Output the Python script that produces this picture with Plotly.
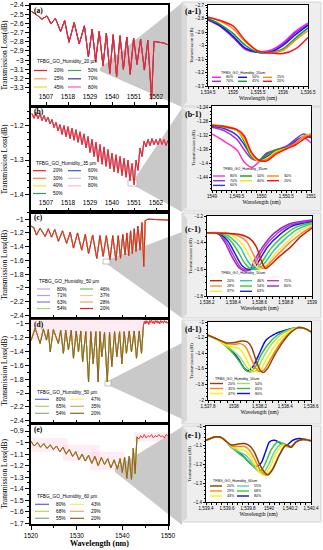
import plotly.graph_objects as go

# ======================= DATA =======================
# ---- left panel (a): TFBG_GO_Humidity_20 um ----
A_WL = [1499.8, 1502.4, 1504.9, 1507.5, 1509.5, 1511.7, 1514.3, 1516.3, 1518.5, 1521.1,
        1523.6, 1526.2, 1528.2, 1530.1, 1531.8, 1533.6, 1535.5, 1537.2, 1538.9, 1540.6,
        1542.3, 1544.0, 1545.7, 1547.4, 1549.1, 1550.8, 1552.5, 1554.3, 1556.2, 1557.9,
        1559.8, 1561.0, 1563.5, 1566.1, 1567.8]
A_LOSS = [-2.472, -2.508, -2.555, -2.519, -2.605, -2.544, -2.688, -2.569, -2.806, -2.591,
          -2.824, -2.627, -2.965, -2.663, -3.012, -2.688, -3.065, -2.706, -3.145, -2.724,
          -3.181, -2.735, -3.101, -2.749, -3.155, -2.760, -3.047, -2.771, -3.109, -2.785,
          -3.425, -2.796, -2.806, -2.814, -2.832]
A_SERIES = ["20%", "25%", "45%", "50%", "70%", "80%"]
A_XTICKS = [1507, 1518, 1529, 1540, 1551, 1562]

# ---- left panel (b): TFBG_GO_Humidity_35 um ----
B_WL = [1500, 1501, 1502, 1503, 1504, 1505, 1506, 1507, 1508, 1509, 1510, 1511, 1512, 1513,
        1514, 1515, 1516, 1517, 1518, 1519, 1520, 1521, 1522, 1523, 1524, 1525, 1526, 1527,
        1528, 1529, 1530, 1531, 1532, 1533, 1534, 1535, 1536, 1537, 1538, 1539, 1540, 1541,
        1542, 1543, 1544, 1545, 1546, 1547, 1548, 1549, 1550, 1551, 1552, 1553, 1554, 1555,
        1556, 1557, 1558, 1559, 1560, 1561, 1562, 1563, 1564, 1565, 1566, 1567, 1568]
B_LOSS = [-1.165, -1.178, -1.162, -1.180, -1.165, -1.185, -1.170, -1.188, -1.175, -1.195,
          -1.182, -1.205, -1.190, -1.215, -1.197, -1.225, -1.200, -1.232, -1.203, -1.238,
          -1.207, -1.242, -1.212, -1.248, -1.218, -1.255, -1.224, -1.265, -1.232, -1.278,
          -1.240, -1.290, -1.248, -1.305, -1.255, -1.312, -1.262, -1.318, -1.270, -1.325,
          -1.280, -1.335, -1.285, -1.338, -1.290, -1.345, -1.295, -1.350, -1.300, -1.360,
          -1.310, -1.372, -1.300, -1.330, -1.265, -1.290, -1.245, -1.262, -1.240, -1.258,
          -1.238, -1.255, -1.240, -1.256, -1.238, -1.255, -1.240, -1.258, -1.242]
B_SERIES = ["20%", "30%", "40%", "50%", "60%", "70%", "80%"]
B_XTICKS = [1507, 1518, 1529, 1540, 1551, 1562]

# ---- left panel (c): TFBG_GO_Humidity_50 um ----
C_WL = [1520.0, 1520.6, 1521.2, 1522.0, 1523.1, 1523.8, 1524.5, 1525.2, 1526.0, 1526.9,
        1527.8, 1528.6, 1529.3, 1530.2, 1531.1, 1531.9, 1532.6, 1533.5, 1534.4, 1535.1,
        1535.8, 1536.5, 1537.3, 1537.9, 1538.6, 1539.1, 1539.6, 1540.1, 1540.6, 1541.0,
        1541.4, 1541.8, 1542.2, 1542.6, 1543.0, 1543.4, 1543.9, 1544.3, 1544.7, 1545.0,
        1545.6, 1546.5, 1547.5, 1548.5, 1550.0]
C_LOSS = [-1.10, -1.12, -1.23, -1.13, -1.25, -1.14, -1.26, -1.15, -1.32, -1.17,
          -1.35, -1.19, -1.42, -1.20, -1.45, -1.22, -1.50, -1.23, -1.57, -1.24,
          -1.54, -1.24, -1.59, -1.24, -1.60, -1.24, -1.57, -1.22, -1.52, -1.20,
          -1.53, -1.17, -1.50, -1.14, -1.47, -1.10, -1.45, -1.05, -1.69, -1.02,
          -1.00, -1.00, -1.01, -1.00, -1.01]
C_SERIES = ["80%", "71%", "63%", "54%", "46%", "37%", "28%", "20%"]

# ---- left panel (d): TFBG_GO_Humidity_50 um ----
D_WL = [1520.0, 1520.9, 1522.0, 1522.7, 1523.4, 1523.8, 1524.2, 1524.9, 1526.0, 1526.5,
        1527.1, 1527.6, 1528.2, 1528.8, 1529.3, 1529.9, 1530.4, 1530.9, 1531.3, 1532.0,
        1532.6, 1533.1, 1533.6, 1534.2, 1534.7, 1535.1, 1535.5, 1536.1, 1536.7, 1537.2,
        1537.7, 1538.3, 1538.8, 1539.4, 1539.9, 1540.4, 1540.9, 1541.5, 1542.0, 1542.6,
        1543.1, 1543.7, 1544.2, 1544.6]
D_LOSS = [-1.25, -1.07, -1.29, -1.08, -1.24, -1.09, -1.41, -1.09, -1.29, -1.10,
          -1.43, -1.10, -1.38, -1.10, -1.50, -1.11, -1.41, -1.11, -1.55, -1.12,
          -1.84, -1.12, -1.58, -1.12, -1.84, -1.12, -1.48, -1.13, -1.84, -1.13,
          -1.62, -1.12, -1.48, -1.12, -1.58, -1.12, -1.43, -1.11, -1.41, -1.11,
          -1.50, -1.11, -1.43, -1.05]
D_TAIL_WL = [1544.6, 1544.8, 1545.0, 1545.2, 1545.4, 1545.6, 1545.8, 1546.0, 1546.2, 1546.4,
             1546.6, 1546.8, 1547.0, 1547.2, 1547.4, 1547.6, 1547.8, 1548.0, 1548.2, 1548.4,
             1548.6, 1548.8, 1549.0, 1549.2, 1549.4, 1549.6, 1549.8, 1550.0]
D_TAIL_LOSS = [-1.05, -0.97, -1.01, -0.96, -1.00, -0.97, -1.02, -0.96, -0.99, -0.95,
               -1.00, -0.97, -1.01, -0.96, -0.99, -0.96, -1.00, -0.97, -1.01, -0.96,
               -0.99, -0.97, -1.00, -0.96, -0.99, -0.97, -1.00, -0.98]
D_SERIES = ["80%", "65%", "54%", "47%", "35%", "20%"]

# ---- left panel (e): TFBG_GO_Humidity_60 um ----
E_WL = [1520.0, 1520.7, 1521.4, 1522.1, 1522.8, 1523.5, 1524.2, 1524.9, 1525.6, 1526.3,
        1527.0, 1527.7, 1528.4, 1529.1, 1529.8, 1530.5, 1531.2, 1531.9, 1532.6, 1533.3,
        1534.0, 1534.7, 1535.4, 1536.1, 1536.8, 1537.5, 1538.2, 1538.9, 1539.5, 1540.0,
        1540.5, 1541.0, 1541.5, 1542.0, 1542.4, 1542.8, 1543.2]
E_LOSS = [-0.99, -1.03, -1.00, -1.04, -1.01, -1.05, -1.02, -1.06, -1.03, -1.08,
          -1.04, -1.10, -1.06, -1.12, -1.08, -1.15, -1.10, -1.16, -1.11, -1.18,
          -1.12, -1.20, -1.13, -1.19, -1.14, -1.22, -1.15, -1.23, -1.14, -1.26,
          -1.13, -1.31, -1.12, -1.32, -1.05, -1.27, -0.95]
E_TAIL_WL = [1543.2, 1543.6, 1544.0, 1544.4, 1544.8, 1545.2, 1545.6, 1546.0, 1546.4, 1546.8,
             1547.2, 1547.6, 1548.0, 1548.4, 1548.8, 1549.2, 1549.6, 1550.0]
E_TAIL_LOSS = [-0.95, -0.97, -0.94, -0.96, -0.93, -0.96, -0.94, -0.95, -0.93, -0.96,
               -0.94, -0.95, -0.93, -0.95, -0.94, -0.96, -0.93, -0.94]
E_SERIES = ["80%", "68%", "55%", "43%", "29%", "20%"]
E_XTICKS = [1520, 1530, 1540, 1550]

# ---- right panel (a-1) ----
A1_WL = [1534.5, 1534.75, 1535.0, 1535.25, 1535.5, 1535.75, 1536.0, 1536.25, 1536.5]
A1_80 = [-2.810, -2.855, -2.935, -3.025, -3.045, -3.035, -2.980, -2.895, -2.835]
A1_70 = [-2.810, -2.860, -2.940, -3.030, -3.050, -3.045, -2.990, -2.905, -2.845]
A1_50 = [-2.805, -2.855, -2.930, -3.020, -3.050, -3.050, -3.000, -2.920, -2.850]
A1_45 = [-2.800, -2.845, -2.910, -3.000, -3.050, -3.050, -3.025, -2.945, -2.870]
A1_25 = [-2.790, -2.820, -2.875, -2.975, -3.040, -3.055, -3.035, -2.960, -2.890]
A1_20 = [-2.790, -2.815, -2.855, -2.965, -3.040, -3.055, -3.060, -3.025, -2.940]

# ---- right panel (b-1) ----
B1_WL = [1549.0, 1549.25, 1549.5, 1549.65, 1549.8, 1549.95, 1550.1, 1550.3, 1550.5, 1550.7, 1550.85, 1551.0]
B1_80 = [-1.315, -1.336, -1.360, -1.395, -1.410, -1.395, -1.372, -1.363, -1.355, -1.332, -1.325, -1.340]
B1_70 = [-1.296, -1.306, -1.330, -1.360, -1.385, -1.390, -1.370, -1.360, -1.350, -1.328, -1.315, -1.325]
B1_60 = [-1.293, -1.300, -1.318, -1.345, -1.378, -1.392, -1.380, -1.365, -1.355, -1.335, -1.322, -1.325]
B1_50 = [-1.290, -1.295, -1.305, -1.335, -1.380, -1.390, -1.375, -1.360, -1.355, -1.340, -1.322, -1.315]
B1_40 = [-1.290, -1.294, -1.305, -1.330, -1.375, -1.393, -1.385, -1.365, -1.356, -1.340, -1.322, -1.315]
B1_30 = [-1.290, -1.292, -1.303, -1.325, -1.370, -1.392, -1.388, -1.368, -1.357, -1.340, -1.323, -1.318]
B1_20 = [-1.290, -1.294, -1.302, -1.320, -1.368, -1.390, -1.392, -1.372, -1.358, -1.345, -1.330, -1.320]

# ---- right panel (c-1) ----
C1_20_WL = [1538.2, 1538.35, 1538.45, 1538.525, 1538.575, 1538.6125, 1538.645, 1538.675, 1538.75, 1538.84, 1538.9125, 1539.0]
C1_20 = [-1.325, -1.33, -1.338, -1.368, -1.43, -1.53, -1.593, -1.575, -1.505, -1.43, -1.355, -1.29]
C1_28_WL = [1538.2, 1538.35, 1538.44, 1538.5, 1538.55, 1538.5875, 1538.625, 1538.6625, 1538.7375, 1538.825, 1538.9125, 1539.0]
C1_28 = [-1.325, -1.33, -1.35, -1.39, -1.48, -1.555, -1.593, -1.568, -1.49, -1.405, -1.335, -1.28]
C1_37_WL = [1538.2, 1538.3375, 1538.4125, 1538.475, 1538.525, 1538.575, 1538.605, 1538.65, 1538.725, 1538.8125, 1538.9, 1539.0]
C1_37 = [-1.325, -1.33, -1.36, -1.418, -1.505, -1.58, -1.598, -1.568, -1.48, -1.393, -1.318, -1.268]
C1_46_WL = [1538.2, 1538.325, 1538.3875, 1538.45, 1538.505, 1538.55, 1538.5875, 1538.6375, 1538.7125, 1538.8, 1538.8875, 1539.0]
C1_46 = [-1.325, -1.33, -1.368, -1.43, -1.53, -1.585, -1.6, -1.555, -1.455, -1.368, -1.3, -1.26]
C1_54_WL = [1538.2, 1538.3125, 1538.375, 1538.43, 1538.4875, 1538.53, 1538.57, 1538.62, 1538.6875, 1538.775, 1538.875, 1539.0]
C1_54 = [-1.325, -1.335, -1.38, -1.455, -1.555, -1.595, -1.6, -1.543, -1.443, -1.355, -1.285, -1.25]
C1_63_WL = [1538.2, 1538.3, 1538.3625, 1538.4125, 1538.47, 1538.5125, 1538.555, 1538.6, 1538.6625, 1538.75, 1538.85, 1539.0]
C1_63 = [-1.325, -1.335, -1.393, -1.48, -1.575, -1.6, -1.595, -1.53, -1.43, -1.343, -1.275, -1.243]
C1_71_WL = [1538.2, 1538.295, 1538.35, 1538.4, 1538.455, 1538.495, 1538.5375, 1538.58, 1538.645, 1538.73, 1538.8375, 1539.0]
C1_71 = [-1.325, -1.335, -1.4, -1.4925, -1.585, -1.605, -1.6, -1.53, -1.425, -1.335, -1.2675, -1.2375]
C1_80_WL = [1538.2, 1538.2875, 1538.34, 1538.39, 1538.44, 1538.48, 1538.525, 1538.56, 1538.625, 1538.71, 1538.825, 1539.0]
C1_80 = [-1.325, -1.335, -1.405, -1.505, -1.585, -1.61, -1.605, -1.535, -1.43, -1.33, -1.26, -1.23]

# ---- right panel (d-1) ----
D1_20_WL = [1537.8, 1537.881, 1537.945, 1538.008, 1538.059, 1538.102, 1538.135, 1538.173, 1538.204, 1538.229, 1538.262, 1538.313, 1538.377, 1538.44, 1538.503, 1538.554, 1538.6]
D1_20 = [-1.17, -1.226, -1.268, -1.264, -1.243, -1.251, -1.311, -1.489, -1.617, -1.647, -1.596, -1.438, -1.268, -1.14, -1.072, -1.085, -1.128]
D1_35_WL = [1537.8, 1537.881, 1537.945, 1538.008, 1538.051, 1538.092, 1538.135, 1538.173, 1538.204, 1538.237, 1538.288, 1538.351, 1538.415, 1538.503, 1538.554, 1538.6]
D1_35 = [-1.17, -1.226, -1.277, -1.285, -1.277, -1.319, -1.468, -1.596, -1.638, -1.609, -1.468, -1.298, -1.17, -1.072, -1.085, -1.128]
D1_47_WL = [1537.8, 1537.881, 1537.945, 1537.996, 1538.041, 1538.084, 1538.128, 1538.173, 1538.204, 1538.25, 1538.313, 1538.377, 1538.453, 1538.503, 1538.554, 1538.6]
D1_47 = [-1.17, -1.234, -1.298, -1.328, -1.34, -1.426, -1.574, -1.638, -1.617, -1.489, -1.319, -1.191, -1.106, -1.072, -1.085, -1.128]
D1_54_WL = [1537.8, 1537.881, 1537.945, 1537.996, 1538.046, 1538.097, 1538.143, 1538.178, 1538.224, 1538.288, 1538.351, 1538.427, 1538.503, 1538.554, 1538.6]
D1_54 = [-1.17, -1.234, -1.311, -1.37, -1.447, -1.574, -1.638, -1.617, -1.468, -1.298, -1.183, -1.106, -1.072, -1.085, -1.128]
D1_65_WL = [1537.8, 1537.881, 1537.945, 1537.996, 1538.046, 1538.092, 1538.128, 1538.168, 1538.211, 1538.275, 1538.338, 1538.415, 1538.503, 1538.554, 1538.6]
D1_65 = [-1.17, -1.234, -1.319, -1.404, -1.511, -1.617, -1.638, -1.574, -1.426, -1.268, -1.17, -1.106, -1.072, -1.085, -1.128]
D1_80_WL = [1537.8, 1537.894, 1537.945, 1537.983, 1538.034, 1538.084, 1538.11, 1538.148, 1538.199, 1538.25, 1538.326, 1538.402, 1538.503, 1538.554, 1538.6]
D1_80 = [-1.17, -1.243, -1.298, -1.362, -1.468, -1.596, -1.626, -1.574, -1.404, -1.234, -1.149, -1.106, -1.072, -1.085, -1.128]

# ---- right panel (e-1) ----
E1_20_WL = [1539.4, 1539.485, 1539.548, 1539.596, 1539.643, 1539.706, 1539.769, 1539.823, 1539.864, 1539.911, 1539.958, 1539.99, 1540.037, 1540.1, 1540.163, 1540.211, 1540.258, 1540.321, 1540.4]
E1_20 = [-1.075, -1.058, -1.061, -1.083, -1.1, -1.095, -1.092, -1.108, -1.142, -1.202, -1.244, -1.258, -1.227, -1.151, -1.1, -1.112, -1.083, -1.071, -1.078]
E1_29_WL = [1539.4, 1539.485, 1539.548, 1539.596, 1539.643, 1539.706, 1539.769, 1539.816, 1539.864, 1539.911, 1539.968, 1540.021, 1540.085, 1540.148, 1540.211, 1540.258, 1540.321, 1540.4]
E1_29 = [-1.075, -1.058, -1.061, -1.083, -1.105, -1.108, -1.108, -1.129, -1.176, -1.227, -1.258, -1.236, -1.168, -1.108, -1.112, -1.083, -1.071, -1.078]
E1_43_WL = [1539.4, 1539.485, 1539.548, 1539.596, 1539.643, 1539.706, 1539.769, 1539.816, 1539.864, 1539.911, 1539.952, 1540.006, 1540.069, 1540.132, 1540.211, 1540.258, 1540.321, 1540.4]
E1_43 = [-1.075, -1.058, -1.061, -1.083, -1.108, -1.122, -1.129, -1.156, -1.202, -1.244, -1.258, -1.219, -1.142, -1.1, -1.112, -1.083, -1.071, -1.078]
E1_55_WL = [1539.4, 1539.485, 1539.548, 1539.596, 1539.643, 1539.706, 1539.769, 1539.816, 1539.864, 1539.911, 1539.943, 1539.99, 1540.053, 1540.116, 1540.211, 1540.258, 1540.321, 1540.4]
E1_55 = [-1.075, -1.058, -1.061, -1.083, -1.112, -1.134, -1.151, -1.176, -1.219, -1.244, -1.249, -1.21, -1.134, -1.095, -1.112, -1.083, -1.071, -1.078]
E1_68_WL = [1539.4, 1539.485, 1539.548, 1539.596, 1539.643, 1539.706, 1539.769, 1539.823, 1539.879, 1539.921, 1539.968, 1540.021, 1540.085, 1540.148, 1540.211, 1540.258, 1540.321, 1540.4]
E1_68 = [-1.075, -1.058, -1.061, -1.083, -1.112, -1.142, -1.168, -1.197, -1.227, -1.236, -1.193, -1.125, -1.083, -1.095, -1.108, -1.083, -1.071, -1.078]
E1_80_WL = [1539.4, 1539.485, 1539.548, 1539.596, 1539.643, 1539.722, 1539.785, 1539.832, 1539.879, 1539.927, 1539.968, 1540.006, 1540.053, 1540.116, 1540.163, 1540.226, 1540.29, 1540.4]
E1_80 = [-1.075, -1.058, -1.061, -1.083, -1.112, -1.142, -1.176, -1.202, -1.214, -1.193, -1.134, -1.083, -1.075, -1.092, -1.103, -1.075, -1.066, -1.078]

TITLES_LEFT = ["TFBG_GO_Humidity_20 µm", "TFBG_GO_Humidity_35 µm", "TFBG_GO_Humidity_50 µm",
               "TFBG_GO_Humidity_50 µm", "TFBG_GO_Humidity_60 µm"]
TITLES_RIGHT = ["TFBG_GO_Humidity_20um", "TFBG_GO_Humidity_35um", "TFBG_GO_Humidity_50um",
                "TFBG_GO_Humidity_50um", "TFBG_GO_Humidity_60um"]
PANEL_LEFT = ["(a)", "(b)", "(c)", "(d)", "(e)"]
PANEL_RIGHT = ["(a-1)", "(b-1)", "(c-1)", "(d-1)", "(e-1)"]

# ======================= STYLE =======================
W, H = 323, 550
def fx(p):
    return p / W
def fy(p):
    return 1 - p / H

SANS = "Liberation Sans"
SERIF = "Liberation Serif"

LEFT_COLORS = [
    {"20%": "#f21d1d", "25%": "#ff9a3c", "45%": "#e8e020", "50%": "#3aa65a", "70%": "#35359a", "80%": "#ff4fd0"},
    {"20%": "#f21d1d", "30%": "#ff7f1e", "40%": "#ffe033", "50%": "#2f9e5a", "60%": "#3b55c8", "70%": "#cdb8ff", "80%": "#ffb0ee"},
    {"80%": "#bfa6e6", "71%": "#b0a0ee", "63%": "#7c7cdc", "54%": "#9fd67e", "46%": "#6fbf6c", "37%": "#f2c98a", "28%": "#e3a66a", "20%": "#e0251c"},
    {"80%": "#5d6fe0", "65%": "#a4d65e", "54%": "#8fae8c", "47%": "#fff266", "35%": "#d5a45c", "20%": "#8a6422"},
    {"80%": "#6a5acd", "68%": "#b8d95a", "55%": "#7fae70", "43%": "#eeee55", "29%": "#e0aa72", "20%": "#8a6422"},
]
LEFT_LEG_ORDER = [
    ["20%", "50%", "25%", "70%", "45%", "80%"],
    ["20%", "60%", "30%", "70%", "40%", "80%", "50%"],
    ["80%", "46%", "71%", "37%", "63%", "28%", "54%", "20%"],
    ["80%", "47%", "65%", "35%", "54%", "20%"],
    ["80%", "43%", "68%", "29%", "55%", "20%"],
]
LEFT_LEG = [
    dict(tx=35, ty=61, rows=[70.5, 78.8, 87.0], cols=[34, 68], ll=13),
    dict(tx=34, ty=163, rows=[170.7, 178.3, 185.9, 193.5], cols=[33, 68], ll=13),
    dict(tx=37, ty=281, rows=[289.0, 295.5, 302.0, 308.5], cols=[37, 80], ll=13),
    dict(tx=35, ty=392, rows=[399.3, 406.3, 413.3], cols=[35, 70], ll=14),
    dict(tx=35, ty=496, rows=[504.3, 511.3, 518.3], cols=[35, 70], ll=14),
]
LEFT_YDOM = [(5, 106), (107, 212), (212, 318), (319, 423), (424, 524)]
LEFT_YRANGE = [[-3.5, -2.4], [-1.4516, -1.1455], [-2.44, -0.894], [-2.43, -0.938], [-1.706, -0.839]]
LEFT_YDT = [0.1, 0.1, 0.2, 0.2, 0.1]
LEFT_YMINOR = [0.05, 0.02, 0.1, 0.1, 0.05]
LEFT_XRANGE = [[1499.5, 1568], [1499.5, 1568], [1520, 1550], [1520, 1550], [1520, 1550]]
LEFT_LABEL_Y = [10, 112, 217, 324, 429]

RIGHT_COLORS = [
    {"80%": "#ff19ff", "50%": "#1010ff", "25%": "#ff8c1a", "70%": "#9b30d0", "45%": "#109a30", "20%": "#ff1010"},
    {"80%": "#ff33cc", "50%": "#10a010", "30%": "#ff8800", "70%": "#9933cc", "40%": "#ffdd00", "20%": "#ff1010", "60%": "#3333ff"},
    {"20%": "#cc2200", "46%": "#33c9a0", "71%": "#cc33cc", "28%": "#ff8833", "54%": "#33cc33", "80%": "#8e2fcf", "37%": "#ffe833", "63%": "#2222dd"},
    {"20%": "#8b4513", "54%": "#9edd6a", "35%": "#ff8800", "65%": "#33bb33", "47%": "#ffee00", "80%": "#0a0aff"},
    {"20%": "#8b3a0f", "55%": "#66ccaa", "29%": "#ff8c00", "68%": "#33cc33", "43%": "#ffee00", "80%": "#0a0aee"},
]
RIGHT_LEG_ORDER = [
    ["80%", "50%", "25%", "70%", "45%", "20%"],
    ["80%", "50%", "30%", "70%", "40%", "20%", "60%"],
    ["20%", "46%", "71%", "28%", "54%", "80%", "37%", "63%"],
    ["20%", "54%", "35%", "65%", "47%", "80%"],
    ["20%", "55%", "29%", "68%", "43%", "80%"],
]
RIGHT_LEG = [
    dict(tx=243, ty=72.7, rows=[77.3, 81.3], cols=[212, 238, 263], ll=9),
    dict(tx=245, ty=169.3, rows=[176.0, 180.7, 185.4], cols=[213, 240, 267], ll=12),
    dict(tx=243, ty=273.3, rows=[280.7, 286.0, 291.3], cols=[210, 240, 267], ll=12),
    dict(tx=237, ty=379.3, rows=[383.5, 388.5, 393.5], cols=[210, 237], ll=13),
    dict(tx=235, ty=481.0, rows=[486.0, 491.0, 496.0], cols=[210, 237], ll=12),
]
RIGHT_XDOM = [(208, 308), (212, 311), (207, 312), (208, 311), (206, 311)]
RIGHT_YDOM = [(5, 86), (106, 190), (216, 296), (322, 400), (426, 502)]
RIGHT_XRANGE = [[1534.5, 1536.5], [1549, 1551], [1538.2, 1539.0], [1537.8, 1538.6], [1539.4, 1540.4]]
RIGHT_XDT = [0.5, 0.5, 0.2, 0.2, 0.2]
RIGHT_YRANGE = [[-3.3, -2.7], [-1.475, -1.235], [-1.8, -1.2], [-2.0, -1.0], [-1.4, -1.0]]
RIGHT_YDT = [0.1, 0.04, 0.2, 0.2, 0.1]
RIGHT_LABEL_Y = [11.8, 114.6, 229.3, 329.8, 435.5]
CARDS = [(182, 2, 321, 106), (182, 107, 321, 211), (182, 213, 321, 318), (182, 320, 321, 424), (182, 426, 321, 522)]
# wedge: apex x, apex y0, apex y1, card-edge top, card-edge bottom
WEDGES = [(100, 68, 71, 3, 107), (133, 181, 185, 108, 212), (107, 260, 264, 232, 318),
          (108, 381, 385, 343, 419), (115, 468, 472, 427, 525)]
APEX_BOX = [None, (128, 180, 137, 186), (103, 259, 110, 264), (105, 381, 111, 386), None]

# ======================= FIGURE =======================
fig = go.Figure()
layout = dict(width=W, height=H, margin=dict(l=0, r=0, t=0, b=0), template="none",
              font=dict(family=SANS, color="black"),
              paper_bgcolor="white", plot_bgcolor="rgba(0,0,0,0)", showlegend=False)
shapes, annots = [], []

left_data = [(A_WL, A_LOSS), (B_WL, B_LOSS), (C_WL, C_LOSS), (D_WL, D_LOSS), (E_WL, E_LOSS)]
left_series = [A_SERIES, B_SERIES, C_SERIES, D_SERIES, E_SERIES]

def axname(k, letter):
    return letter + "axis" + ("" if k == 1 else str(k))

def axref(k, letter):
    return letter + ("" if k == 1 else str(k))

# ---- background shapes: wedges, cards, right plot areas ----
for (ax, ay0, ay1, t, b) in WEDGES:
    shapes.append(dict(type="path", xref="paper", yref="paper", layer="below",
                       path=f"M{fx(ax)},{fy(ay0)} L{fx(182)},{fy(t)} L{fx(182)},{fy(b)} L{fx(ax)},{fy(ay1)} Z",
                       fillcolor="#c9c9c9", line=dict(width=0)))
for bx in APEX_BOX:
    if bx:
        shapes.append(dict(type="rect", xref="paper", yref="paper", layer="below",
                           x0=fx(bx[0]), x1=fx(bx[2]), y0=fy(bx[1]), y1=fy(bx[3]),
                           fillcolor="white", line=dict(color="#9a9a9a", width=0.6)))
for (x0, y0, x1, y1) in CARDS:
    shapes.append(dict(type="rect", xref="paper", yref="paper", layer="below",
                       x0=fx(x0), x1=fx(x1), y0=fy(y1), y1=fy(y0),
                       fillcolor="#eeeeee", line=dict(color="#d4d4d4", width=1)))
    shapes.append(dict(type="path", xref="paper", yref="paper", layer="below",
                       path=f"M{fx(x0)},{fy(y0)} L{fx(x0+5)},{fy(y0+5)} L{fx(x0+5)},{fy(y1-4)} L{fx(x0)},{fy(y1)} Z",
                       fillcolor="#d9d9d9", line=dict(width=0)))
for i in range(5):
    shapes.append(dict(type="rect", xref="paper", yref="paper", layer="below",
                       x0=fx(RIGHT_XDOM[i][0]), x1=fx(RIGHT_XDOM[i][1]),
                       y0=fy(RIGHT_YDOM[i][1]), y1=fy(RIGHT_YDOM[i][0]),
                       fillcolor="white", line=dict(width=0)))

# faint pink highlight areas in (d) and (e)
shapes.append(dict(type="rect", xref="x4", yref="y4", layer="below", x0=1520, x1=1544.5, y0=-1.24, y1=-0.94,
                   fillcolor="rgba(255,182,205,0.28)", line=dict(width=0)))
for (x0, x1, y0, y1) in [(1520, 1528, -1.08, -0.96), (1527, 1535, -1.16, -1.02),
                         (1533, 1540.5, -1.24, -1.08), (1542.6, 1550, -0.99, -0.91)]:
    shapes.append(dict(type="rect", xref="x5", yref="y5", layer="below", x0=x0, x1=x1, y0=y0, y1=y1,
                       fillcolor="rgba(255,170,205,0.22)", line=dict(width=0)))

# ---- left panels ----
for i in range(5):
    k = i + 1
    xr, yr = axref(k, "x"), axref(k, "y")
    wl, loss = left_data[i]
    cols = LEFT_COLORS[i]
    for s in [s for s in left_series[i] if s != "20%"] + ["20%"]:
        fig.add_trace(go.Scatter(x=wl, y=loss, mode="lines", name=s, xaxis=xr, yaxis=yr,
                                 line=dict(color=cols[s], width=1.0)))
    if i == 3:
        fig.add_trace(go.Scatter(x=D_TAIL_WL, y=D_TAIL_LOSS, mode="lines", name="20%", xaxis=xr, yaxis=yr,
                                 line=dict(color="#ee2222", width=1.0)))
    if i == 4:
        fig.add_trace(go.Scatter(x=E_TAIL_WL, y=E_TAIL_LOSS, mode="lines", name="20%", xaxis=xr, yaxis=yr,
                                 line=dict(color="#e43a2a", width=1.0)))
    xa = dict(domain=[fx(31), fx(168)], range=LEFT_XRANGE[i], anchor=yr, showgrid=False, zeroline=False,
              showline=True, mirror=True, linecolor="black", linewidth=2, automargin=False,
              tickfont=dict(family=SANS, size=6.5, color="black"), tickcolor="black")
    if i < 2:
        xa.update(tickvals=A_XTICKS if i == 0 else B_XTICKS, ticks="inside", ticklen=4,
                  ticklabelposition="inside")
    elif i < 4:
        xa.update(dtick=5, tick0=1520, ticks="inside", ticklen=3, showticklabels=False)
    else:
        xa.update(tickvals=E_XTICKS, ticks="outside", ticklen=4,
                  minor=dict(dtick=5, tick0=1520, ticks="outside", ticklen=2, tickcolor="black"),
                  title=dict(text="<b>Wavelength (nm)</b>", font=dict(family=SERIF, size=8, color="black"),
                             standoff=1))
    ya = dict(domain=[fy(LEFT_YDOM[i][1]), fy(LEFT_YDOM[i][0])], range=LEFT_YRANGE[i], anchor=xr,
              showgrid=False, zeroline=False, showline=True, mirror=True, linecolor="black", linewidth=2,
              automargin=False, dtick=LEFT_YDT[i], tick0=0, ticks="outside", ticklen=4, tickcolor="black",
              minor=dict(dtick=LEFT_YMINOR[i], tick0=0, ticks="outside", ticklen=2, tickcolor="black"),
              tickfont=dict(family=SANS, size=7, color="black"),
              title=dict(text="Transmission Loss(dB)", font=dict(family=SERIF, size=7.5, color="black"), standoff=1))
    layout[axname(k, "x")] = xa
    layout[axname(k, "y")] = ya
    annots.append(dict(x=fx(32), y=fy(LEFT_LABEL_Y[i]), xref="paper", yref="paper", text="<b>" + PANEL_LEFT[i] + "</b>",
                       showarrow=False, xanchor="left", yanchor="middle", font=dict(family=SERIF, size=7.5, color="black")))
    # legend (drawn from series labels and colours)
    lg = LEFT_LEG[i]
    annots.append(dict(x=fx(lg["tx"]), y=fy(lg["ty"]), xref="paper", yref="paper", text=TITLES_LEFT[i],
                       showarrow=False, xanchor="left", yanchor="middle", font=dict(family=SANS, size=4.8, color="black")))
    ncol = len(lg["cols"])
    for j, s in enumerate(LEFT_LEG_ORDER[i]):
        r, c = divmod(j, ncol)
        x0 = lg["cols"][c]
        yy = lg["rows"][r]
        shapes.append(dict(type="line", xref="paper", yref="paper", layer="above",
                           x0=fx(x0), x1=fx(x0 + lg["ll"]), y0=fy(yy), y1=fy(yy),
                           line=dict(color=cols[s], width=1.2)))
        annots.append(dict(x=fx(x0 + lg["ll"] + 5), y=fy(yy), xref="paper", yref="paper", text=s,
                           showarrow=False, xanchor="left", yanchor="middle",
                           font=dict(family=SANS, size=4.8, color="black")))

# ---- right panels ----
right_data = [
    {"80%": (A1_WL, A1_80), "70%": (A1_WL, A1_70), "50%": (A1_WL, A1_50),
     "45%": (A1_WL, A1_45), "25%": (A1_WL, A1_25), "20%": (A1_WL, A1_20)},
    {"80%": (B1_WL, B1_80), "70%": (B1_WL, B1_70), "60%": (B1_WL, B1_60), "50%": (B1_WL, B1_50),
     "40%": (B1_WL, B1_40), "30%": (B1_WL, B1_30), "20%": (B1_WL, B1_20)},
    {"80%": (C1_80_WL, C1_80), "71%": (C1_71_WL, C1_71), "63%": (C1_63_WL, C1_63), "54%": (C1_54_WL, C1_54),
     "46%": (C1_46_WL, C1_46), "37%": (C1_37_WL, C1_37), "28%": (C1_28_WL, C1_28), "20%": (C1_20_WL, C1_20)},
    {"80%": (D1_80_WL, D1_80), "65%": (D1_65_WL, D1_65), "54%": (D1_54_WL, D1_54),
     "47%": (D1_47_WL, D1_47), "35%": (D1_35_WL, D1_35), "20%": (D1_20_WL, D1_20)},
    {"80%": (E1_80_WL, E1_80), "68%": (E1_68_WL, E1_68), "55%": (E1_55_WL, E1_55),
     "43%": (E1_43_WL, E1_43), "29%": (E1_29_WL, E1_29), "20%": (E1_20_WL, E1_20)},
]
for i in range(5):
    k = i + 6
    xr, yr = axref(k, "x"), axref(k, "y")
    cols = RIGHT_COLORS[i]
    for s, (wl, loss) in right_data[i].items():
        fig.add_trace(go.Scatter(x=wl, y=loss, mode="lines", name=s, xaxis=xr, yaxis=yr,
                                 line=dict(color=cols[s], width=1.5, shape="spline", smoothing=0.8)))
    layout[axname(k, "x")] = dict(
        domain=[fx(RIGHT_XDOM[i][0]), fx(RIGHT_XDOM[i][1])], range=RIGHT_XRANGE[i], anchor=yr,
        dtick=RIGHT_XDT[i], tick0=0, showgrid=False, zeroline=False, showline=True, mirror=True,
        linecolor="black", linewidth=1, ticks="outside", ticklen=2, tickcolor="black", automargin=False,
        minor=dict(ticks="outside", ticklen=1.5, tickcolor="black"),
        tickfont=dict(family=SANS, size=4.5, color="black"),
        title=dict(text="Wavelength (nm)", font=dict(family=SERIF, size=5.5, color="black"), standoff=1))
    layout[axname(k, "y")] = dict(
        domain=[fy(RIGHT_YDOM[i][1]), fy(RIGHT_YDOM[i][0])], range=RIGHT_YRANGE[i], anchor=xr,
        dtick=RIGHT_YDT[i], tick0=0, showgrid=False, zeroline=False, showline=True, mirror=True,
        linecolor="black", linewidth=1, ticks="outside", ticklen=2, tickcolor="black", automargin=False,
        minor=dict(ticks="outside", ticklen=1.5, tickcolor="black"),
        tickfont=dict(family=SANS, size=4.5, color="black"),
        title=dict(text="Transmission (dB)", font=dict(family=SERIF, size=4.8, color="black"), standoff=1))
    annots.append(dict(x=fx(183), y=fy(RIGHT_LABEL_Y[i]), xref="paper", yref="paper",
                       text="<b>" + PANEL_RIGHT[i] + "</b>", showarrow=False, xanchor="left", yanchor="middle",
                       font=dict(family=SERIF, size=8, color="black")))
    lg = RIGHT_LEG[i]
    annots.append(dict(x=fx(lg["tx"]), y=fy(lg["ty"]), xref="paper", yref="paper", text=TITLES_RIGHT[i],
                       showarrow=False, xanchor="center", yanchor="middle",
                       font=dict(family=SANS, size=3.6, color="black")))
    ncol = len(lg["cols"])
    for j, s in enumerate(RIGHT_LEG_ORDER[i]):
        r, c = divmod(j, ncol)
        x0 = lg["cols"][c]
        yy = lg["rows"][r]
        shapes.append(dict(type="line", xref="paper", yref="paper", layer="above",
                           x0=fx(x0), x1=fx(x0 + lg["ll"]), y0=fy(yy), y1=fy(yy),
                           line=dict(color=cols[s], width=1.4)))
        annots.append(dict(x=fx(x0 + lg["ll"] + 3), y=fy(yy), xref="paper", yref="paper", text=s,
                           showarrow=False, xanchor="left", yanchor="middle",
                           font=dict(family=SANS, size=3.6, color="black")))

layout["shapes"] = shapes
layout["annotations"] = annots
fig.update_layout(**layout)
fig.write_html("out.html", config={"displayModeBar": False},
               post_script="document.body.style.margin='0';document.body.style.overflow='hidden';")
